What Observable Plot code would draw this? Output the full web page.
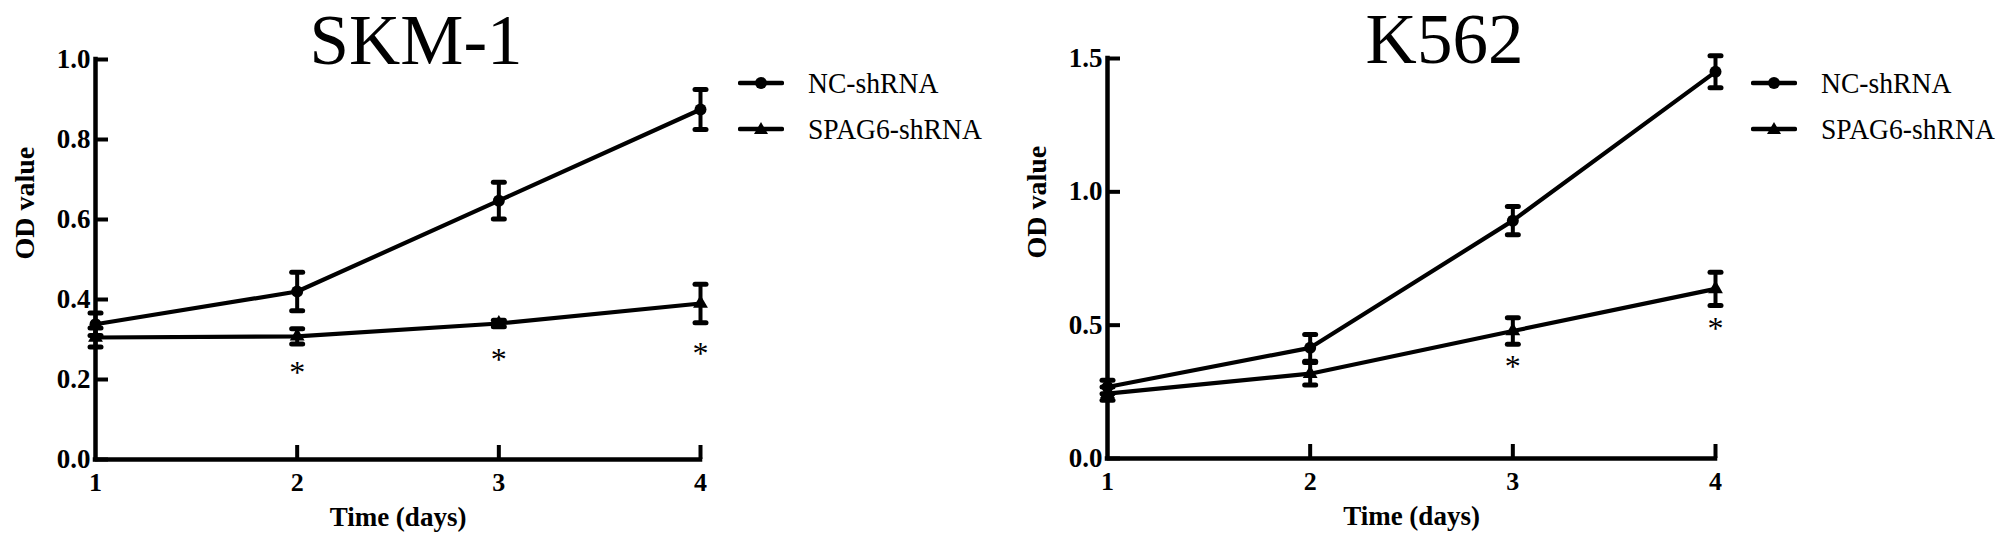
<!DOCTYPE html>
<html>
<head>
<meta charset="utf-8">
<script src="https://cdn.jsdelivr.net/npm/d3@7"></script>
<script src="https://cdn.jsdelivr.net/npm/@observablehq/plot@0.6"></script>
<style>
  html, body { margin: 0; padding: 0; background: #fff; }
  #wrap { position: relative; width: 2008px; height: 545px; display: flex; overflow: hidden; }
  .panel { position: relative; width: 1004px; height: 545px; }
  .legend { position: absolute; font-family: "Liberation Serif", "Times New Roman", serif; font-size: 30px; color: #000; }
  .legend .row { position: absolute; left: 0; height: 40px; display: flex; align-items: center; white-space: nowrap; }
  .legend svg { display: block; margin-right: 24px; }
  .legend span { display: inline-block; transform: scaleX(0.92); transform-origin: 0 50%; }
</style>
</head>
<body>
<div id="wrap"></div>
<script>
// ---- data ----
const days = [1, 2, 3, 4];
const seriesNames = ["NC-shRNA", "SPAG6-shRNA"];

const skmTitle = "SKM-1";
const skmNC = [0.338, 0.42, 0.647, 0.875];
const skmNCsd = [0.028, 0.048, 0.046, 0.05];
const skmSP = [0.305, 0.308, 0.34, 0.39];
const skmSPsd = [0.024, 0.019, 0.008, 0.048];
const skmStarDays = [2, 3, 4];
const skmStarY = [0.23, 0.262, 0.276];
const skmYTicks = [0, 0.2, 0.4, 0.6, 0.8, 1.0];

const k562Title = "K562";
const k562NC = [0.268, 0.415, 0.892, 1.45];
const k562NCsd = [0.025, 0.05, 0.053, 0.06];
const k562SP = [0.243, 0.318, 0.478, 0.636];
const k562SPsd = [0.025, 0.042, 0.05, 0.062];
const k562StarDays = [3, 4];
const k562StarY = [0.364, 0.505];
const k562YTicks = [0, 0.5, 1.0, 1.5];

const yLabel = "OD value";
const xLabel = "Time (days)";

// horizontal error-bar cap symbol
const capSymbol = {
  draw(ctx, size) {
    const w = Math.sqrt(size / Math.PI);
    ctx.moveTo(-w, 0);
    ctx.lineTo(w, 0);
  }
};

function panel(o) {
  const rows = [];
  days.forEach((d, i) => {
    rows.push({day: d, series: seriesNames[0], mean: o.nc[i], lo: o.nc[i] - o.ncSd[i], hi: o.nc[i] + o.ncSd[i]});
    rows.push({day: d, series: seriesNames[1], mean: o.sp[i], lo: o.sp[i] - o.spSd[i], hi: o.sp[i] + o.spSd[i]});
  });
  const stars = o.starDays.map((d, i) => ({day: d, y: o.starY[i]}));
  const W = 1004, H = 545;
  const frameW = W - o.ml - o.mr;
  const frameH = H - o.mt - o.mb;
  const serif = "Liberation Serif";
  return Plot.plot({
    width: W, height: H,
    marginLeft: o.ml, marginRight: o.mr, marginTop: o.mt, marginBottom: o.mb,
    x: {domain: [1, 4]},
    y: {domain: [0, o.yMax]},
    style: {fontFamily: serif, color: "#000", background: "#fff", overflow: "visible"},
    marks: [
      // axis lines
      Plot.ruleX([1], {stroke: "#000", strokeWidth: 4.5, strokeLinecap: "square"}),
      Plot.ruleY([0], {stroke: "#000", strokeWidth: 4.5, strokeLinecap: "square"}),
      // inward ticks
      Plot.tickY(o.yTicks, {y: d => d, stroke: "#000", strokeWidth: 4, insetRight: frameW - 13}),
      Plot.tickX(days.slice(1), {x: d => d, stroke: "#000", strokeWidth: 4, insetTop: frameH - 14}),
      // tick labels
      Plot.axisY(o.yTicks, {tickSize: 0, tickPadding: 5, tickFormat: d3.format(".1f"), fontSize: 27, fontWeight: "bold", fontFamily: serif, label: null}),
      Plot.axisX(days, {tickSize: 0, tickPadding: 13, tickFormat: d => String(d), fontSize: 26, fontWeight: "bold", fontFamily: serif, label: null}),
      // series lines
      Plot.line(rows, {x: "day", y: "mean", z: "series", stroke: "#000", strokeWidth: 4.2}),
      // error bars
      Plot.ruleX(rows, {x: "day", y1: "lo", y2: "hi", stroke: "#000", strokeWidth: 4}),
      Plot.dot(rows, {x: "day", y: "hi", symbol: capSymbol, r: 5.5, fill: "none", stroke: "#000", strokeWidth: 5, strokeLinecap: "round"}),
      Plot.dot(rows, {x: "day", y: "lo", symbol: capSymbol, r: 5.5, fill: "none", stroke: "#000", strokeWidth: 5, strokeLinecap: "round"}),
      // markers
      Plot.dot(rows.filter(r => r.series === seriesNames[0]), {x: "day", y: "mean", symbol: "circle", r: 6, fill: "#000", stroke: "none"}),
      Plot.dot(rows.filter(r => r.series === seriesNames[1]), {x: "day", y: "mean", symbol: "triangle", r: 5.5, fill: "#000", stroke: "none"}),
      // significance asterisks
      Plot.text(stars, {x: "day", y: "y", text: () => "*", fontSize: 32, dy: 5, fill: "#000"}),
      // title
      Plot.text([o.title], {frameAnchor: "top", dx: o.titleDx, dy: 4, lineAnchor: "bottom", fontSize: 71, fill: "#000"}),
      // axis titles
      Plot.text([yLabel], {frameAnchor: "left", dx: -70, rotate: -90, fontSize: 28, fontWeight: "bold", fill: "#000"}),
      Plot.text([xLabel], {frameAnchor: "bottom", dy: 66, fontSize: 27, fontWeight: "bold", fill: "#000"})
    ]
  });
}

function legend(left, top) {
  const div = document.createElement("div");
  div.className = "legend";
  div.style.left = left + "px";
  div.style.top = top + "px";
  const sym = [
    '<svg width="46" height="14"><line x1="2" y1="7" x2="44" y2="7" stroke="#000" stroke-width="4.5" stroke-linecap="round"/><circle cx="23" cy="7" r="6" fill="#000"/></svg>',
    '<svg width="46" height="14"><line x1="2" y1="7" x2="44" y2="7" stroke="#000" stroke-width="4.5" stroke-linecap="round"/><path d="M23,0L30,12L16,12Z" fill="#000"/></svg>'
  ];
  seriesNames.forEach((name, i) => {
    const row = document.createElement("div");
    row.className = "row";
    row.style.top = (i * 46) + "px";
    row.innerHTML = sym[i] + "<span>" + name + "</span>";
    div.appendChild(row);
  });
  return div;
}

const wrap = document.getElementById("wrap");

const p1 = document.createElement("div");
p1.className = "panel";
p1.appendChild(panel({
  title: skmTitle, titleDx: 18, nc: skmNC, ncSd: skmNCsd, sp: skmSP, spSd: skmSPsd,
  starDays: skmStarDays, starY: skmStarY, yMax: 1.0, yTicks: skmYTicks,
  ml: 95, mr: 304, mt: 59, mb: 86
}));
p1.appendChild(legend(738, 63));
wrap.appendChild(p1);

const p2 = document.createElement("div");
p2.className = "panel";
p2.appendChild(panel({
  title: k562Title, titleDx: 33, nc: k562NC, ncSd: k562NCsd, sp: k562SP, spSd: k562SPsd,
  starDays: k562StarDays, starY: k562StarY, yMax: 1.5, yTicks: k562YTicks,
  ml: 103, mr: 293, mt: 58, mb: 87
}));
p2.appendChild(legend(747, 63));
wrap.appendChild(p2);
</script>
</body>
</html>
